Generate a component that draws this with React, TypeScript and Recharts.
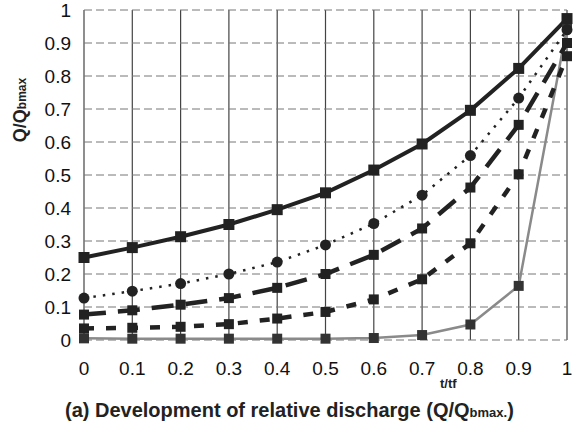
import React from "react";
import { LineChart, Line, XAxis, YAxis, CartesianGrid } from "recharts";

const tRatio = [0, 0.1, 0.2, 0.3, 0.4, 0.5, 0.6, 0.7, 0.8, 0.9, 1];
const curveSolid = [0.25, 0.28, 0.313, 0.35, 0.395, 0.446, 0.515, 0.594, 0.696, 0.823, 0.974];
const curveDotted = [0.127, 0.148, 0.171, 0.2, 0.236, 0.288, 0.353, 0.439, 0.559, 0.733, 0.94];
const curveLongDash = [0.077, 0.09, 0.107, 0.127, 0.158, 0.2, 0.258, 0.338, 0.462, 0.652, 0.9];
const curveShortDash = [0.035, 0.037, 0.04, 0.048, 0.065, 0.085, 0.123, 0.184, 0.293, 0.502, 0.86];
const curveGray = [0.005, 0.004, 0.004, 0.004, 0.004, 0.004, 0.006, 0.015, 0.047, 0.164, 0.95];
const tickValues = [0, 0.1, 0.2, 0.3, 0.4, 0.5, 0.6, 0.7, 0.8, 0.9, 1];

const data = tRatio.map((x, i) => ({
  x,
  solid: curveSolid[i],
  dotted: curveDotted[i],
  longDash: curveLongDash[i],
  shortDash: curveShortDash[i],
  gray: curveGray[i],
}));

const FONT = "'Liberation Sans', Arial, sans-serif";

const squareDot = (size: number, fill: string) => (props: any) => {
  const { cx, cy, index } = props;
  if (cx == null || cy == null) return <g key={index} />;
  return (
    <rect
      key={index}
      x={cx - size / 2}
      y={cy - size / 2}
      width={size}
      height={size}
      fill={fill}
      stroke="none"
    />
  );
};

const circleDot = (r: number, fill: string) => (props: any) => {
  const { cx, cy, index } = props;
  if (cx == null || cy == null) return <g key={index} />;
  return <circle key={index} cx={cx} cy={cy} r={r} fill={fill} stroke="none" />;
};

const fmt = (v: number) => (v === 0 ? "0" : v === 1 ? "1" : String(v));

export default function App() {
  return (
    <div style={{ position: "absolute", left: 0, top: 0, width: 584, height: 431, background: "#fff" }}>
      <LineChart
        width={584}
        height={431}
        data={data}
        margin={{ top: 10, right: 17, bottom: 61, left: 24 }}
      >
        <CartesianGrid horizontal={false} vertical={true} stroke="#444" strokeWidth={1.2} />
        <CartesianGrid horizontal={true} vertical={false} stroke="#777" strokeDasharray="8 4" strokeWidth={1} />
        <XAxis
          type="number"
          dataKey="x"
          domain={[0, 1]}
          ticks={tickValues}
          tickFormatter={fmt}
          axisLine={false}
          tickLine={false}
          tickSize={0}
          tickMargin={22}
          height={30}
          tick={{ fill: "#111", fontSize: 19, fontFamily: FONT }}
          interval={0}
        />
        <YAxis
          type="number"
          domain={[0, 1]}
          ticks={tickValues}
          tickFormatter={fmt}
          axisLine={false}
          tickLine={false}
          tickSize={0}
          tickMargin={13}
          width={60}
          tick={{ fill: "#111", fontSize: 19, fontFamily: FONT }}
          interval={0}
        />
        <Line
          dataKey="gray"
          stroke="#8a8a8a"
          strokeWidth={2.5}
          dot={squareDot(10, "#333")}
          isAnimationActive={false}
          type="linear"
        />
        <Line
          dataKey="shortDash"
          stroke="#222"
          strokeWidth={4.5}
          strokeDasharray="10 12"
          dot={squareDot(10, "#222")}
          isAnimationActive={false}
          type="linear"
        />
        <Line
          dataKey="longDash"
          stroke="#222"
          strokeWidth={4.5}
          strokeDasharray="22 12"
          dot={squareDot(10, "#222")}
          isAnimationActive={false}
          type="linear"
        />
        <Line
          dataKey="dotted"
          stroke="#222"
          strokeWidth={2.5}
          strokeDasharray="2.5 7"
          dot={circleDot(5.5, "#222")}
          isAnimationActive={false}
          type="linear"
        />
        <Line
          dataKey="solid"
          stroke="#222"
          strokeWidth={4}
          dot={squareDot(11, "#222")}
          isAnimationActive={false}
          type="linear"
        />
      </LineChart>
      <div
        style={{
          position: "absolute",
          left: 20,
          top: 110,
          transform: "translate(-50%, -50%) rotate(-90deg)",
          fontFamily: FONT,
          fontWeight: "bold",
          fontSize: 18,
          color: "#222",
          whiteSpace: "nowrap",
        }}
      >
        Q/Q<span style={{ fontSize: 12 }}>bmax</span>
      </div>
      <div
        style={{
          position: "absolute",
          left: 440,
          top: 376,
          fontFamily: FONT,
          fontWeight: "bold",
          fontSize: 13,
          color: "#222",
          whiteSpace: "nowrap",
        }}
      >
        t/tf
      </div>
      <div
        style={{
          position: "absolute",
          left: 65,
          top: 399,
          fontFamily: FONT,
          fontWeight: "bold",
          fontSize: 20,
          color: "#222",
          whiteSpace: "nowrap",
        }}
      >
        (a) Development of relative discharge (Q/Q<span style={{ fontSize: 13 }}>bmax.</span>)
      </div>
    </div>
  );
}
